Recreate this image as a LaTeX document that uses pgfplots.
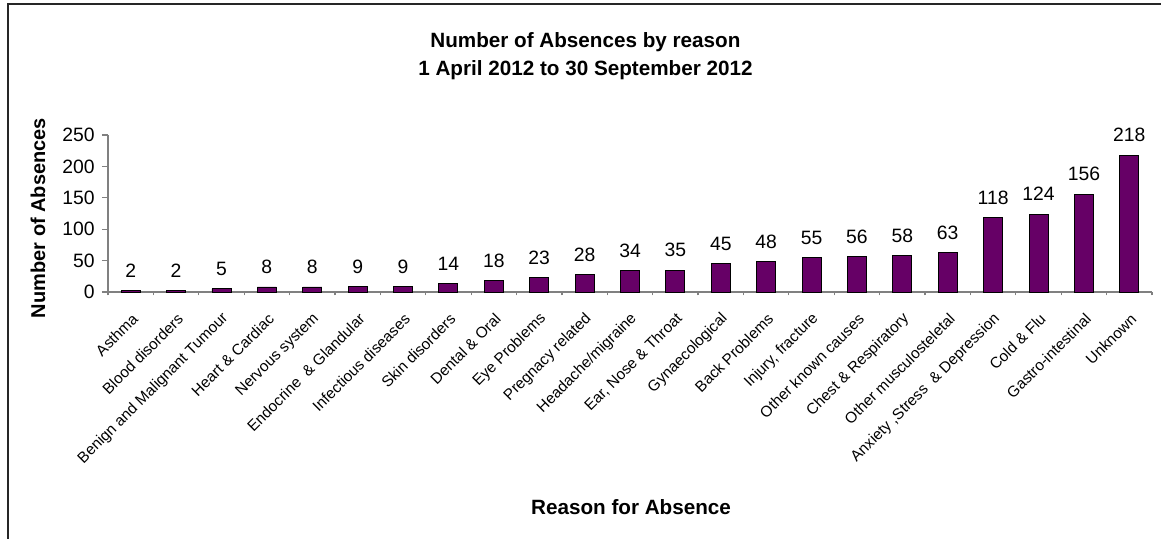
\documentclass[border=0pt]{standalone}
\usepackage{pgfplots}
\usepackage{pgfplotstable}
\pgfplotsset{compat=1.18}
\usepackage{fontspec}
\setmainfont{Liberation Sans}
\definecolor{barcol}{HTML}{660066}
\definecolor{axgray}{HTML}{808080}
\pgfplotstableread{
x y
0 2
1 2
2 5
3 8
4 8
5 9
6 9
7 14
8 18
9 23
10 28
11 34
12 35
13 45
14 48
15 55
16 56
17 58
18 63
19 118
20 124
21 156
22 218
}\absences
\begin{document}
\begin{tikzpicture}
\useasboundingbox (0,0) rectangle (870.75pt,404.25pt);
\draw[line width=1.1pt, black!85] (6pt,0) -- (6pt,401.25pt) -- (870.75pt,401.25pt);
\begin{axis}[
  at={(81pt,185.25pt)}, anchor=south west,
  scale only axis, width=783pt, height=117.75pt,
  xmin=-0.5, xmax=22.5, ymin=0, ymax=250,
  enlargelimits=false, clip=false,
  axis x line*=bottom, axis y line*=left,
  axis line style={-, draw=axgray, line width=0.9pt},
  tick align=outside,
  tick style={draw=axgray, line width=0.9pt},
  major tick length=4.5pt,
  minor tick length=2.6pt,
  ytick={0,50,100,150,200,250},
  xtick={0,...,22},
  minor xtick={-0.5,0.5,...,22.5},
  major x tick style={draw=none},
  xticklabels={Asthma, Blood disorders, Benign and Malignant Tumour, Heart \& Cardiac, Nervous system, Endocrine\ \ \& Glandular, Infectious diseases, Skin disorders, Dental \& Oral, Eye Problems, Pregnacy related, Headache/migraine, {Ear, Nose \& Throat}, Gynaecological, Back Problems, {Injury, fracture}, Other known causes, Chest \& Respiratory, Other musculosteletal, {Anxiety ,Stress\ \ \& Depression}, Cold \& Flu, Gastro-intestinal, Unknown},
  x tick label style={rotate=45, anchor=east, font=\fontsize{11.5}{13}\selectfont, xshift=-4pt, yshift=-12pt},
  y tick label style={font=\fontsize{14.5}{17}\selectfont, xshift=-2pt},
  /pgf/number format/assume math mode=true,
  title={Number of Absences by reason\\1 April 2012 to 30 September 2012},
  title style={at={(axis description cs:0.4573,1.452)}, anchor=center, align=center, font=\bfseries\fontsize{15.5}{20.6}\selectfont},
  xlabel={Reason for Absence},
  xlabel style={at={(axis description cs:0.5010,-1.3694)}, anchor=center, font=\bfseries\fontsize{15.5}{18}\selectfont},
  ylabel={Number of Absences},
  ylabel style={at={(axis description cs:-0.06705,0.4713)}, anchor=center, rotate=0, font=\bfseries\fontsize{15}{18}\selectfont},
  ybar, bar width=14.25pt,
  nodes near coords,
  every node near coord/.append style={font=\fontsize{14.5}{17}\selectfont, inner sep=0pt, yshift=9.5pt, black},
]
\addplot[fill=barcol, draw=black, line width=0.7pt] table[x=x, y=y] {\absences};
\end{axis}
\end{tikzpicture}
\end{document}
